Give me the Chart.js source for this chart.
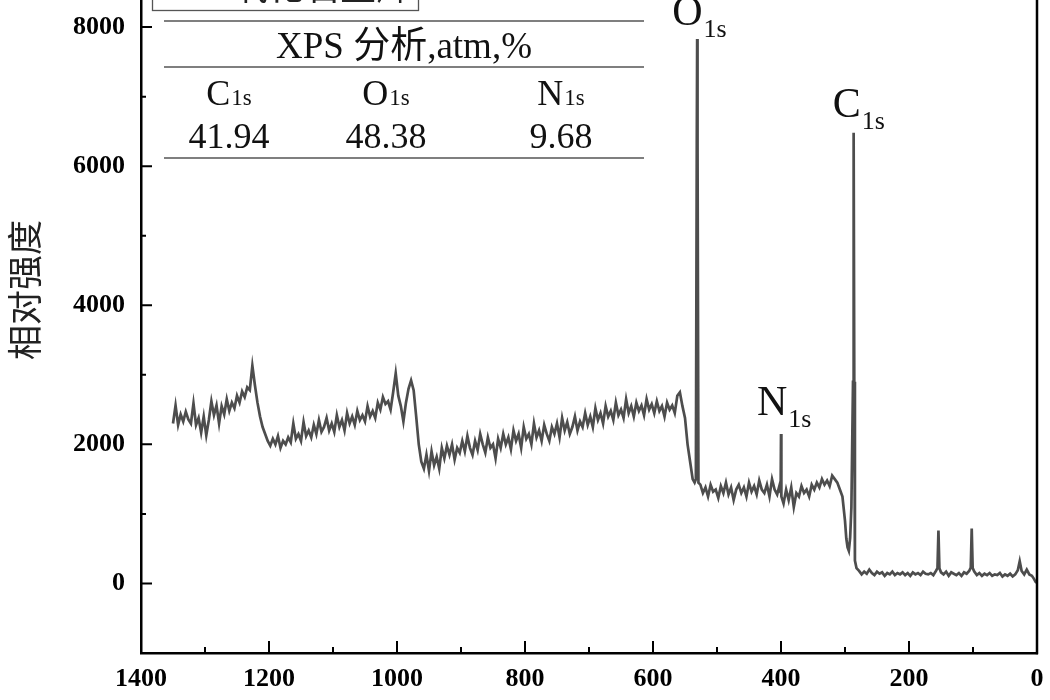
<!DOCTYPE html>
<html><head><meta charset="utf-8">
<script src="https://cdn.jsdelivr.net/npm/chart.js@4.4.1/dist/chart.umd.min.js"></script>
<style>html,body{margin:0;padding:0;background:#fff}#wrap{width:1050px;height:700px}</style>
</head><body><div id="wrap"><canvas id="c" width="1050" height="700"></canvas></div>
<script>
// XPS survey spectrum: [binding energy (eV), intensity]
const spectrum = [
[1350,2300],[1346,2560],[1342,2280],[1338,2430],[1334,2330],[1330,2470],[1326,2360],[1322,2300],[1318,2590],[1314,2280],
[1310,2380],[1306,2170],[1302,2400],[1298,2130],[1294,2350],[1290,2620],[1286,2420],[1282,2560],[1278,2300],[1274,2550],
[1270,2430],[1266,2650],[1262,2480],[1258,2600],[1254,2520],[1250,2700],[1246,2600],[1242,2760],[1238,2680],[1234,2820],
[1230,2780],[1226,3130],[1222,2850],[1218,2600],[1214,2400],[1210,2250],[1206,2150],[1202,2050],[1198,1980],[1194,2080],
[1190,2000],[1186,2120],[1182,1950],[1178,2050],[1174,2000],[1170,2100],[1166,2030],[1162,2300],[1158,2080],[1154,2150],
[1150,2050],[1146,2320],[1142,2120],[1138,2200],[1134,2100],[1130,2280],[1126,2150],[1122,2350],[1118,2180],[1114,2250],
[1110,2380],[1106,2200],[1102,2300],[1098,2180],[1094,2420],[1090,2250],[1086,2350],[1082,2200],[1078,2450],[1074,2300],
[1070,2400],[1066,2280],[1062,2480],[1058,2350],[1054,2420],[1050,2330],[1046,2550],[1042,2400],[1038,2480],[1034,2380],
[1030,2600],[1026,2500],[1022,2680],[1018,2580],[1014,2620],[1010,2500],[1006,2750],[1002,3020],[998,2700],[994,2550],
[990,2330],[986,2600],[982,2800],[978,2920],[974,2780],[970,2400],[966,2000],[962,1750],[958,1650],[954,1850],
[950,1620],[946,1900],[942,1700],[938,1820],[934,1650],[930,1950],[926,1800],[922,1980],[918,1850],[914,2000],
[910,1780],[906,1950],[902,1880],[898,2050],[894,1900],[890,2120],[886,1950],[882,1850],[878,2050],[874,1920],
[870,2150],[866,2000],[862,1880],[858,2100],[854,1950],[850,2000],[846,1800],[842,2080],[838,1950],[834,2150],
[830,2000],[826,2100],[822,1930],[818,2200],[814,2050],[810,2150],[806,1950],[802,2250],[798,2080],[794,2150],
[790,2000],[786,2300],[782,2100],[778,2200],[774,2050],[770,2280],[766,2150],[762,2050],[758,2250],[754,2150],
[750,2300],[746,2100],[742,2380],[738,2200],[734,2320],[730,2150],[726,2250],[722,2400],[718,2200],[714,2330],
[710,2250],[706,2450],[702,2280],[698,2400],[694,2250],[690,2520],[686,2350],[682,2450],[678,2300],[674,2550],
[670,2400],[666,2480],[662,2350],[658,2600],[654,2420],[650,2500],[646,2380],[642,2650],[638,2450],[634,2550],
[630,2400],[626,2600],[622,2480],[618,2560],[614,2420],[610,2650],[606,2500],[602,2580],[598,2450],[594,2620],
[590,2480],[586,2550],[582,2400],[578,2600],[574,2500],[570,2560],[566,2450],[562,2700],[558,2750],[554,2550],
[550,2380],[546,2000],[542,1750],[538,1500],[535,1450],[533,1500],[531.6,6300],[531,7830],[530.4,6300],[529,1450],
[526,1420],[522,1300],[518,1380],[514,1250],[510,1420],[506,1320],[502,1350],[498,1230],[494,1400],[490,1300],
[486,1450],[482,1280],[478,1380],[474,1200],[470,1350],[466,1420],[462,1300],[458,1380],[454,1250],[450,1450],
[446,1320],[442,1400],[438,1280],[434,1480],[430,1350],[426,1300],[422,1420],[418,1250],[414,1500],[410,1350],
[406,1280],[402,1420],[400.6,1300],[400,2150],[399.4,1250],[396,1150],[392,1350],[388,1200],[384,1380],[380,1100],
[376,1300],[372,1250],[368,1400],[364,1300],[360,1350],[356,1250],[352,1420],[348,1350],[344,1450],[340,1380],
[336,1500],[332,1420],[328,1480],[324,1400],[320,1550],[316,1500],[312,1450],[308,1350],[304,1250],[300,900],
[298,650],[296,520],[294,470],[292,650],[290,1100],[287.5,2900],[286.5,6480],[285.5,2900],[284.5,330],[282,220],
[278,180],[274,130],[270,170],[266,140],[262,200],[258,150],[254,120],[250,170],[246,140],[242,160],
[238,110],[234,150],[230,130],[226,170],[222,120],[218,150],[214,130],[210,160],[206,120],[202,150],
[198,110],[194,160],[190,130],[186,150],[182,120],[178,170],[174,140],[170,130],[166,150],[162,120],
[158,180],[155.5,220],[154,760],[152.5,220],[150,160],[146,130],[142,170],[138,110],[134,160],[130,140],
[126,120],[122,150],[118,110],[114,160],[110,140],[106,180],[103.5,230],[102,790],[100.5,220],[98,170],
[94,120],[90,150],[86,110],[82,140],[78,120],[74,150],[70,110],[66,130],[62,120],[58,150],
[54,100],[50,130],[46,110],[42,140],[38,100],[34,130],[30,190],[27,320],[24,180],[20,130],
[16,200],[12,130],[8,110],[5,70],[2,20],[0,10]
];
const xTicks = [0,100,200,300,400,500,600,700,800,900,1000,1100,1200,1300,1400];
const yTicks = [-1000,0,1000,2000,3000,4000,5000,6000,7000,8000];
const xRange = [0,1400];
const yRange = [-1000,8390];
const yTitle = '相对强度';
const legendLabel = '氧化石墨烯';
const tableTitle = 'XPS 分析,atm,%';
const tableElements = ['C','O','N'];
const tableValues = ['41.94','48.38','9.68'];
const peakLabels = [['O',531,7830],['C',286.5,6480],['N',400,2150]];

const serif = '"Liberation Serif","Times New Roman",serif';
const cjk = '"Noto Sans CJK SC","Noto Sans CJK JP",sans-serif';
const tickFont = {family: serif, size: 26, weight: 'bold'};

function drawSub(ctx, main, sub, x, base, mainSize, subSize, drop) {
  ctx.textAlign = 'left'; ctx.textBaseline = 'alphabetic';
  ctx.font = mainSize + 'px ' + serif;
  ctx.fillText(main, x, base);
  const w = ctx.measureText(main).width;
  ctx.font = subSize + 'px ' + serif;
  ctx.fillText(sub, x + w + 1, base + drop);
  return w + 1 + ctx.measureText(sub).width;
}
function subWidth(ctx, main, sub, mainSize, subSize) {
  ctx.font = mainSize + 'px ' + serif; const a = ctx.measureText(main).width;
  ctx.font = subSize + 'px ' + serif; return a + 1 + ctx.measureText(sub).width;
}

const decor = {
  id: 'decor',
  afterDraw(chart) {
    const {ctx, chartArea: a, scales: {x, y}} = chart;
    ctx.save();
    // inward ticks
    ctx.strokeStyle = '#000'; ctx.lineWidth = 2;
    ctx.beginPath();
    xTicks.forEach(v => {
      const px = x.getPixelForValue(v); const len = v % 200 === 0 ? 12 : 6;
      ctx.moveTo(px, a.bottom); ctx.lineTo(px, a.bottom - len);
    });
    yTicks.forEach(v => {
      if (v === yRange[0]) return;
      const py = y.getPixelForValue(v); const len = v % 2000 === 0 ? 11 : 5;
      ctx.moveTo(a.left, py); ctx.lineTo(a.left + len, py);
    });
    ctx.stroke();
    // right border
    ctx.lineWidth = 2.5; ctx.beginPath();
    ctx.moveTo(a.right, a.top); ctx.lineTo(a.right, a.bottom + 1.2); ctx.stroke();

    // y title
    ctx.save();
    ctx.translate(25, 290); ctx.rotate(-Math.PI / 2);
    ctx.fillStyle = '#222'; ctx.font = '35px ' + cjk;
    ctx.textAlign = 'center'; ctx.textBaseline = 'middle';
    ctx.fillText(yTitle, 0, 0);
    ctx.restore();

    // legend box (cut off at top)
    ctx.strokeStyle = '#555'; ctx.lineWidth = 1.3;
    ctx.strokeRect(152.5, -20, 266, 30.5);
    ctx.fillStyle = '#222'; ctx.font = '36px ' + cjk;
    ctx.textAlign = 'left'; ctx.textBaseline = 'ideographic';
    ctx.fillText(legendLabel, 232, 4);

    // table
    ctx.strokeStyle = '#555'; ctx.lineWidth = 1.3;
    [21, 67, 158].forEach(yy => { ctx.beginPath(); ctx.moveTo(164, yy); ctx.lineTo(644, yy); ctx.stroke(); });
    ctx.fillStyle = '#111';
    ctx.font = '37px ' + serif + ',' + cjk;
    ctx.textAlign = 'center'; ctx.textBaseline = 'alphabetic';
    ctx.fillText(tableTitle, 404, 58);
    const cols = [229, 386, 561];
    tableElements.forEach((el, i) => {
      const w = subWidth(ctx, el, '1s', 36, 23);
      drawSub(ctx, el, '1s', cols[i] - w / 2, 105, 36, 23, 0);
    });
    ctx.font = '36px ' + serif; ctx.textAlign = 'center';
    tableValues.forEach((v, i) => ctx.fillText(v, cols[i], 148));

    // peak labels
    const offs = {O: [-25, -14], C: [-21, -16], N: [-24, -19]};
    peakLabels.forEach(([el, be, val]) => {
      const px = x.getPixelForValue(be), py = y.getPixelForValue(val);
      drawSub(ctx, el, '1s', px + offs[el][0], py + offs[el][1], 42, 26, 12);
    });
    ctx.restore();
  }
};

new Chart(document.getElementById('c'), {
  type: 'line',
  data: {datasets: [{
    data: spectrum.map(([be, v]) => ({x: be, y: v})),
    borderColor: '#4d4d4d', borderWidth: 2.7, pointRadius: 0, tension: 0, fill: false
  }]},
  options: {
    responsive: false, animation: false, devicePixelRatio: 1,
    layout: {padding: {top: 0, left: 0, right: 13, bottom: 0}},
    plugins: {legend: {display: false}, tooltip: {enabled: false}},
    scales: {
      x: {
        type: 'linear', min: xRange[0], max: xRange[1], reverse: true,
        afterBuildTicks: s => { s.ticks = xTicks.map(v => ({value: v})); },
        afterFit: s => { s.height = 47; s.paddingLeft = 0; s.paddingRight = 0; },
        ticks: {autoSkip: false, maxRotation: 0, padding: 11, color: '#000', font: tickFont,
          callback: v => (v % 200 === 0 ? String(v) : '')},
        grid: {display: false, drawTicks: false},
        border: {display: true, color: '#000', width: 2.5}
      },
      y: {
        type: 'linear', min: yRange[0], max: yRange[1],
        afterBuildTicks: s => { s.ticks = yTicks.map(v => ({value: v})); },
        afterFit: s => { s.width = 141; s.paddingTop = 0; s.paddingBottom = 0; },
        ticks: {autoSkip: false, padding: 16, color: '#000', font: tickFont,
          callback: v => (v >= 0 && v % 2000 === 0 ? String(v) : '')},
        grid: {display: false, drawTicks: false},
        border: {display: true, color: '#000', width: 2.5}
      }
    }
  },
  plugins: [decor]
});
</script></body></html>
